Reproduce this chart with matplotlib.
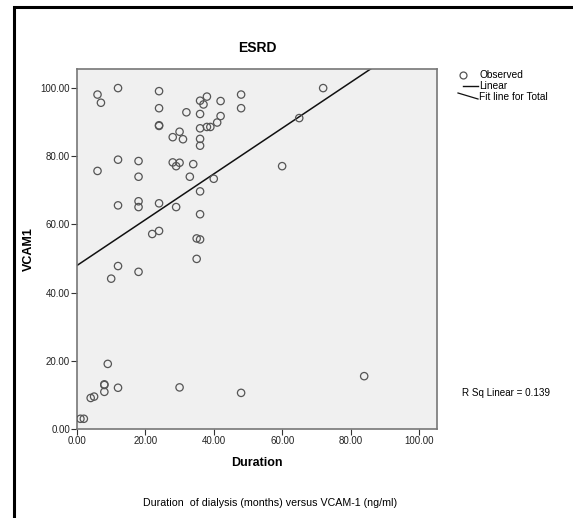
import matplotlib
matplotlib.use("Agg")
import matplotlib.pyplot as plt
from matplotlib.lines import Line2D
from matplotlib.patches import Rectangle
import numpy as np

plt.rcParams['font.family'] = ['Liberation Sans', 'DejaVu Sans']

# Duration of dialysis (months) and VCAM-1 (ng/ml)
duration = [1, 2, 4, 5, 6, 6, 7, 8, 8, 8, 9, 10,
            12, 12, 12, 12, 12, 18, 18, 18, 18, 18, 22,
            24, 24, 24, 24, 24, 24, 28, 28, 29, 29, 30, 30, 30,
            31, 32, 33, 34, 35, 35, 36, 36, 36, 36, 36, 36, 36, 36,
            37, 38, 38, 39, 40, 41, 42, 42, 48, 48, 48, 60, 65, 72, 84]
vcam1 = [3.0, 3.0, 9.1, 9.5, 98.1, 75.7, 95.7, 13.1, 12.9, 10.9, 19.1, 44.1,
         100.0, 79.0, 65.6, 47.8, 12.1, 78.6, 74.0, 66.8, 65.1, 46.1, 57.2,
         99.1, 94.1, 89.1, 88.9, 66.2, 58.1, 85.6, 78.2, 77.1, 65.1, 87.2, 78.1, 12.2,
         85.0, 92.9, 74.0, 77.7, 55.9, 49.9, 96.3, 92.4, 88.2, 85.1, 83.1, 69.7, 63.0, 55.6,
         95.2, 97.5, 88.6, 88.6, 73.4, 89.9, 96.2, 91.8, 98.1, 94.1, 10.6, 77.1, 91.2, 100.0, 15.5]
r_sq_text = "R Sq Linear = 0.139"

x = np.array(duration, dtype=float)
y = np.array(vcam1, dtype=float)
slope, intercept = np.polyfit(x, y, 1)

fig = plt.figure(figsize=(5.73, 5.18), dpi=100)
ax = fig.add_axes([77 / 573, 1 - 429 / 518, 360 / 573, 360 / 518])
ax.set_facecolor('#f0f0f0')

ax.scatter(x, y, s=28, facecolors='none', edgecolors='#555555', linewidths=0.9, zorder=3)
xl = np.array([0, 106])
ax.plot(xl, intercept + slope * xl, color='#111111', lw=1.1, zorder=2)

ax.set_xlim(0, 105.3)
ax.set_ylim(0, 105.6)
ax.set_xticks([0, 20, 40, 60, 80, 100])
ax.set_yticks([0, 20, 40, 60, 80, 100])
ax.xaxis.set_major_formatter(lambda v, p: f"{v:.2f}")
ax.yaxis.set_major_formatter(lambda v, p: f"{v:.2f}")
ax.tick_params(labelsize=7, length=4, width=0.8, color='#333333', labelcolor='#222222', pad=1)
for s in ax.spines.values():
    s.set_color('#777777')
    s.set_linewidth(1.2)

ax.set_xlabel("Duration", fontsize=9, fontweight='bold', labelpad=8)
ax.set_ylabel("VCAM1", fontsize=9, fontweight='bold', labelpad=4)
ax.set_title("ESRD", fontsize=10, fontweight='bold', pad=12)

# legend drawn in figure pixels, like the SPSS one
def fx(px):
    return px / 573

def fy(py):
    return 1 - py / 518

fig.add_artist(Line2D([fx(463)], [fy(75)], marker='o', ms=5, mfc='none', mec='#555555', mew=0.9))
fig.text(fx(479), fy(75), "Observed", fontsize=7.3, va='center')
fig.add_artist(Line2D([fx(463), fx(478)], [fy(86), fy(86)], color='#111111', lw=1))
fig.text(fx(479), fy(86), "Linear", fontsize=7.3, va='center')
fig.add_artist(Line2D([fx(458), fx(478)], [fy(93), fy(99)], color='#111111', lw=0.9))
fig.text(fx(479), fy(97.5), "Fit line for Total", fontsize=7.3, va='center')

fig.text(fx(462), fy(393), r_sq_text, fontsize=7.1, va='center')
fig.text(fx(270), fy(503), "Duration  of dialysis (months) versus VCAM-1 (ng/ml)",
         fontsize=7.7, ha='center', va='center')

# outer frame
fig.add_artist(Rectangle((fx(13.5), -0.1), 1.2, fy(7.5) + 0.1, transform=fig.transFigure,
                         fill=False, edgecolor='black', lw=2.2))

fig.savefig("out.png", dpi=100)
